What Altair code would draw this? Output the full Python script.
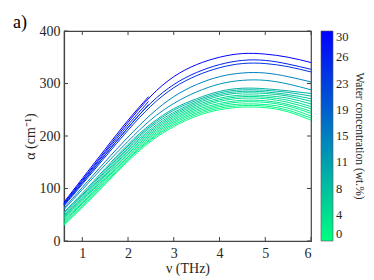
import altair as alt
import pandas as pd

freq = [0.6, 1.0, 1.5, 2.0, 2.5, 3.0, 3.5, 4.0, 4.5, 5.0, 5.5, 6.0]

# water concentration (wt.%) of each full-range curve
conc = [0, 1, 1.5, 2, 3, 3.5, 4, 5, 6, 7, 8, 9, 13, 15, 24, 26, 30]

# absorption coefficient (cm^-1) per curve
alpha = [
    [30, 64, 108, 152, 190, 218, 238, 250, 255, 254, 246, 230],
    [32, 66, 110, 155, 193, 221, 241, 253, 258, 257, 249, 234],
    [34, 68, 113, 157, 195, 224, 244, 256, 261, 260, 253, 238],
    [37, 71, 116, 160, 198, 227, 247, 259, 265, 264, 257, 243],
    [39, 73, 118, 163, 201, 230, 250, 262, 268, 267, 260, 247],
    [41, 76, 121, 166, 204, 233, 253, 266, 272, 271, 264, 252],
    [44, 78, 124, 169, 207, 236, 256, 269, 275, 274, 268, 256],
    [46, 81, 126, 172, 210, 239, 259, 272, 278, 277, 272, 261],
    [48, 83, 129, 175, 213, 242, 262, 276, 282, 281, 276, 266],
    [50, 86, 132, 178, 217, 245, 265, 279, 285, 284, 279, 271],
    [53, 88, 135, 181, 220, 249, 268, 282, 288, 287, 283, 276],
    [55, 91, 138, 184, 223, 252, 271, 285, 291, 290, 286, 281],
    [60, 98, 145, 190, 231, 262, 284, 299, 306, 306, 299, 288],
    [63, 102, 151, 198, 241, 275, 298, 313, 320, 320, 313, 303],
    [67, 108, 160, 211, 257, 292, 315, 330, 338, 338, 332, 322],
    [69, 111, 164, 216, 263, 298, 321, 336, 344, 344, 337, 327],
    [72, 116, 171, 226, 276, 313, 336, 350, 357, 356, 350, 340],
]

# low-frequency segments (end near 2.45 THz)
seg_freq = [0.6, 1.0, 1.5, 2.0, 2.45]
seg_conc = [24, 26, 30]
seg_alpha = [
    [69, 111, 164, 216, 260],
    [71, 114, 168, 221, 266],
    [74, 119, 175, 230, 275],
]

x_ticks = [1, 2, 3, 4, 5, 6]
y_ticks = [0, 100, 200, 300, 400]
cbar_ticks = [0, 3.75, 7.5, 11.25, 15, 18.75, 22.5, 26.25, 30]

rows = []
for i, (c, vals) in enumerate(zip(conc, alpha)):
    for f, a in zip(freq, vals):
        rows.append({"id": f"L{i}", "c": c, "f": f, "a": a})
for i, (c, vals) in enumerate(zip(seg_conc, seg_alpha)):
    for f, a in zip(seg_freq, vals):
        rows.append({"id": f"S{i}", "c": c, "f": f, "a": a})
df = pd.DataFrame(rows)

FONT = "Liberation Serif"
W, H = 247, 210

xscale = alt.Scale(domain=[0.6, 6], nice=False, zero=False)
yscale = alt.Scale(domain=[0, 400], nice=False)
cscale = alt.Scale(domain=[0, 30], range=["#00ff80", "#0000ff"], interpolate="rgb")

lines = alt.Chart(df).mark_line(strokeWidth=1, interpolate="natural").encode(
    x=alt.X("f:Q", scale=xscale,
            axis=alt.Axis(values=x_ticks, title="ν (THz)", labelPadding=5,
                          titlePadding=1, ticks=False, grid=False)),
    y=alt.Y("a:Q", scale=yscale,
            axis=alt.Axis(values=y_ticks, title="α (cm⁻¹)", labelPadding=4,
                          titlePadding=2, ticks=False, grid=False)),
    color=alt.Color("c:Q", scale=cscale,
                    legend=alt.Legend(title=None, values=cbar_ticks, format="d",
                                      gradientLength=H, gradientThickness=12,
                                      offset=8, padding=0, labelOffset=3,
                                      labelFont=FONT, labelFontSize=12.5,
                                      labelColor="#262626", labelBaseline="middle",
                                      labelOverlap=False,
                                      gradientStrokeColor="#555",
                                      gradientStrokeWidth=0.6,
                                      direction="vertical", orient="right")),
    detail="id:N",
    order="f:Q",
)

xt = pd.DataFrame({"v": x_ticks})
yt = pd.DataFrame({"v": y_ticks})
tick_col = "#444"
xb = alt.Chart(xt).mark_rule(color=tick_col, strokeWidth=1).encode(
    x=alt.X("v:Q", scale=xscale), y=alt.value(H), y2=alt.value(H - 4))
xtp = alt.Chart(xt).mark_rule(color=tick_col, strokeWidth=1).encode(
    x=alt.X("v:Q", scale=xscale), y=alt.value(0), y2=alt.value(4))
yl = alt.Chart(yt).mark_rule(color=tick_col, strokeWidth=1).encode(
    y=alt.Y("v:Q", scale=yscale), x=alt.value(0), x2=alt.value(4))
yr = alt.Chart(yt).mark_rule(color=tick_col, strokeWidth=1).encode(
    y=alt.Y("v:Q", scale=yscale), x=alt.value(W - 4), x2=alt.value(W))

panel = alt.Chart(pd.DataFrame({"t": ["a)"]})).mark_text(
    font=FONT, fontSize=18, align="left", baseline="alphabetic", color="black"
).encode(text="t:N", x=alt.value(-51), y=alt.value(-3))

ctitle = alt.Chart(pd.DataFrame({"t": ["Water concentration (wt.%)"]})).mark_text(
    font=FONT, fontSize=11.5, angle=90, align="center", baseline="middle", color="#262626"
).encode(text="t:N", x=alt.value(295), y=alt.value(H / 2))

chart = alt.layer(lines, xb, xtp, yl, yr, panel, ctitle).properties(
    width=W, height=H,
    autosize=alt.AutoSizeParams(type="none"),
    padding={"left": 56, "top": 23, "right": 55, "bottom": 38},
).configure_view(
    stroke="#444", strokeWidth=1.2
).configure_axis(
    labelFont=FONT, titleFont=FONT, labelFontSize=14, titleFontSize=14,
    labelColor="#262626", titleColor="#262626", titleFontWeight="normal",
    domainColor="#444", domainWidth=1.2,
).configure_legend(
    labelFont=FONT
)

chart.save("out.html", embed_options={"renderer": "svg", "actions": False})
